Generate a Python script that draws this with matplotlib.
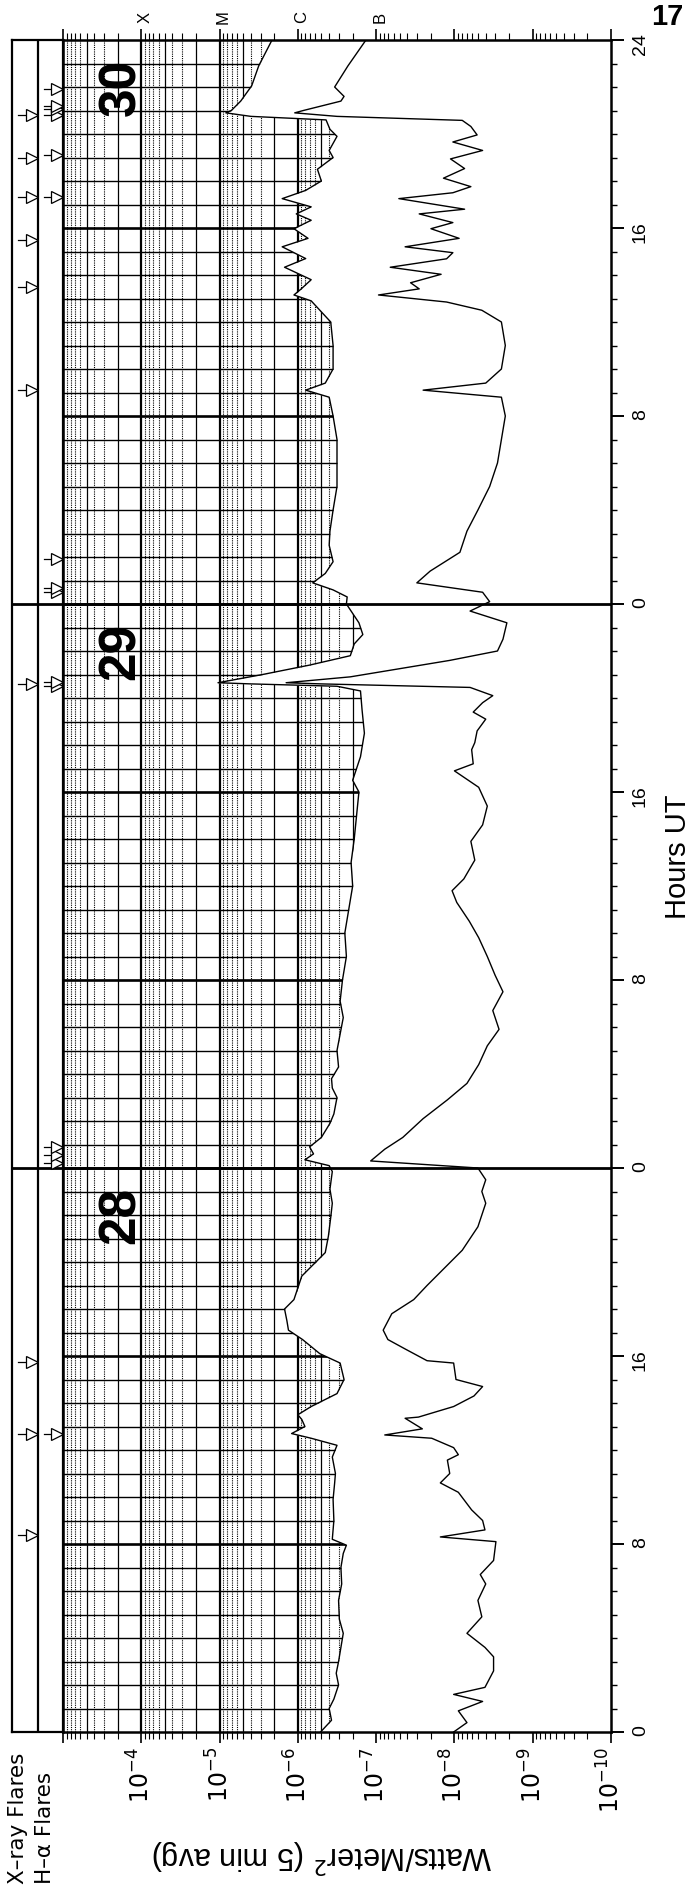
import numpy as np
import matplotlib
matplotlib.use("Agg")
import matplotlib.pyplot as plt
from matplotlib.ticker import FixedLocator, LogLocator, FuncFormatter, NullFormatter
import matplotlib.transforms as mtransforms

plt.rcParams['font.family'] = ['Liberation Sans', 'DejaVu Sans']

# GOES X-ray flux, 5 min averages; hours counted from 00 UT on the 28th
# 1-8 A channel
long_hours = [0.0, 0.5, 1.0, 1.4, 2.0, 2.5, 3.0, 3.6, 4.2, 4.8, 5.6, 6.3, 7.0, 7.6, 7.95,
              8.2, 9.0, 9.9, 10.6, 11.0, 11.7, 12.2, 12.5, 12.7, 13.0, 13.3, 13.5, 13.85,
              14.4, 15.0, 15.7, 16.1, 16.7, 17.1, 17.5, 18.0, 18.4, 19.4, 20.4, 21.1, 21.9,
              22.5, 23.1, 23.85, 24.1, 24.35, 24.6, 24.9, 25.3, 25.9, 26.3, 27.0, 27.4,
              27.8, 28.3, 29.0, 29.7, 30.4, 31.1, 32.0, 33.0, 34.0, 35.0, 36.0, 37.0, 38.0,
              39.0, 40.0, 40.5, 41.5, 42.5, 43.5, 44.3, 44.5, 44.6, 44.65, 45.0, 45.4, 45.8,
              46.3, 46.7, 47.2, 47.6, 48.0, 48.3, 48.6, 48.9, 49.3, 49.8, 50.5, 51.1, 52.0,
              53.0, 54.0, 55.0, 56.0, 56.8, 57.1, 57.4, 58.0, 59.0, 60.0, 60.9, 61.15, 61.4,
              61.8, 62.33, 62.7, 63.2, 63.56, 63.97, 64.33, 64.6, 64.9, 65.25, 65.6, 66.0,
              66.5, 67.0, 67.3, 67.9, 68.2, 68.6, 68.75, 68.9, 69.0, 69.4, 70.05, 70.9, 72.0]
long_logs = [-6.29, -6.43, -6.40, -6.46, -6.52, -6.49, -6.52, -6.55, -6.58, -6.53, -6.52,
             -6.56, -6.55, -6.58, -6.62, -6.44, -6.46, -6.45, -6.47, -6.48, -6.44, -6.50,
             -6.17, -5.92, -6.09, -6.05, -6.00, -6.17, -6.50, -6.59, -6.54, -6.28, -6.06,
             -5.88, -5.86, -5.83, -5.95, -6.05, -6.35, -6.39, -6.42, -6.44, -6.41, -6.44,
             -6.40, -6.09, -6.20, -6.15, -6.30, -6.41, -6.46, -6.50, -6.44, -6.43, -6.52,
             -6.50, -6.54, -6.58, -6.54, -6.57, -6.62, -6.60, -6.65, -6.70, -6.68, -6.72,
             -6.75, -6.78, -6.70, -6.80, -6.85, -6.82, -6.80, -6.50, -5.40, -4.98, -5.55,
             -6.15, -6.67, -6.72, -6.83, -6.78, -6.70, -6.62, -6.63, -6.45, -6.19, -6.35,
             -6.45, -6.40, -6.41, -6.45, -6.50, -6.50, -6.50, -6.45, -6.40, -6.10, -6.35,
             -6.45, -6.45, -6.42, -6.17, -5.95, -6.04, -6.17, -5.83, -6.10, -5.80, -6.13,
             -5.95, -6.17, -5.98, -6.17, -5.80, -6.10, -6.30, -6.25, -6.45, -6.40, -6.50,
             -6.41, -6.36, -5.40, -5.08, -5.15, -5.27, -5.41, -5.50, -5.67]

# 0.5-4 A channel
short_hours = [0.0, 0.4, 0.9, 1.3, 1.6, 1.9, 2.6, 3.2, 3.6, 4.2, 4.9, 5.6, 6.3, 6.7, 7.3,
               8.1, 8.3, 8.6, 9.0, 9.45, 10.2, 10.6, 11.0, 11.57, 11.8, 12.1, 12.5, 12.64,
               12.9, 13.35, 13.4, 13.85, 14.3, 14.7, 15.0, 15.7, 15.8, 16.3, 16.7, 17.1,
               17.8, 18.4, 19.0, 19.5, 20.0, 20.5, 21.0, 21.5, 22.0, 22.5, 23.0, 23.5, 24.0,
               24.3, 24.8, 25.3, 26.1, 26.9, 27.6, 28.4, 29.2, 29.9, 30.7, 31.5, 32.2, 33.0,
               33.8, 34.5, 35.3, 35.8, 36.3, 37.1, 37.9, 38.6, 39.4, 40.2, 40.9, 41.2, 41.8,
               42.1, 42.6, 43.1, 43.4, 43.8, 44.1, 44.45, 44.6, 44.65, 44.9, 45.6, 46.0,
               46.5, 47.2, 47.7, 48.1, 48.5, 48.9, 49.4, 50.2, 51.1, 52.0, 53.0, 54.0, 55.0,
               56.0, 56.8, 57.1, 57.4, 58.0, 59.0, 60.0, 60.5, 60.85, 61.15, 61.41, 61.67,
               62.03, 62.33, 62.69, 62.95, 63.2, 63.56, 63.97, 64.23, 64.6, 64.8, 65.25,
               65.5, 65.76, 66.12, 66.53, 66.94, 67.3, 67.66, 67.96, 68.32, 68.58, 68.75,
               68.9, 69.0, 69.4, 69.6, 70.0, 70.9, 72.0]
short_logs = [-7.99, -8.16, -8.05, -8.36, -7.99, -8.39, -8.50, -8.50, -8.39, -8.16, -8.35,
              -8.30, -8.40, -8.33, -8.50, -8.53, -7.82, -8.39, -8.36, -8.22, -8.05, -7.82,
              -7.94, -7.91, -8.05, -7.99, -7.71, -7.11, -7.59, -7.37, -7.54, -7.99, -8.25,
              -8.36, -8.02, -7.99, -7.65, -7.37, -7.15, -7.09, -7.20, -7.48, -7.65, -7.80,
              -7.95, -8.10, -8.20, -8.30, -8.35, -8.40, -8.35, -8.40, -8.30,
              -6.93, -7.11, -7.34, -7.60, -7.91, -8.16, -8.31, -8.42, -8.57, -8.49, -8.62,
              -8.52, -8.42, -8.31, -8.19, -8.03, -7.97, -8.12, -8.26, -8.21, -8.36, -8.42,
              -8.31, -8.00, -8.24, -8.22, -8.26, -8.29, -8.40, -8.24, -8.36, -8.49, -8.20,
              -6.30, -5.85, -6.67, -7.94, -8.55, -8.62, -8.67, -8.20, -8.45, -8.36, -7.52,
              -7.69, -8.07, -8.16, -8.30, -8.45, -8.55, -8.60, -8.65, -8.60, -7.60, -8.40,
              -8.60, -8.65, -8.60, -8.35, -7.90, -7.03, -7.55, -7.44, -7.83, -7.18, -7.90,
              -7.98, -7.37, -8.06, -7.70, -7.98, -7.55, -8.13, -7.29, -7.98, -8.21, -7.86,
              -8.13, -7.95, -8.36, -7.98, -8.29, -8.21, -8.10, -6.50, -5.96, -6.07, -6.55,
              -6.59, -6.47, -6.64, -6.87]

xray_flares = [8.38, 12.7, 15.75, 44.6, 57.1, 61.5, 63.5, 65.3, 67.0, 68.8]
halpha_flares = [12.7, 24.2, 24.55, 24.9, 44.5, 44.7, 48.5, 48.7, 49.9, 65.3, 67.1,
                 68.8, 69.05, 69.2, 69.9]

day_labels = ['28', '29', '30']
class_labels = ['X', 'M', 'C', 'B']

W, H = 694, 1886
fig = plt.figure(figsize=(W / 100, H / 100), dpi=100)

left_px, right_px, top_px, bot_px = 63, 611, 40, 1732
ax = fig.add_axes([left_px / W, 1 - bot_px / H, (right_px - left_px) / W, (bot_px - top_px) / H])
ax.set_xscale('log')
ax.set_xlim(1e-3, 1e-10)
ax.set_ylim(0, 72)

# log grid: decade lines heavy, minor lines lighter / dotted
for e in range(-10, -3):
    for m in range(1, 10):
        v = m * 10.0 ** e
        if m == 1:
            ax.axvline(v, color='k', lw=1.6, zorder=1)
        elif m in (2, 5):
            ax.axvline(v, color='k', lw=0.9, zorder=1)
        else:
            ax.axvline(v, color='k', lw=0.8, ls=(0, (1, 1)), zorder=1)
for hr in range(1, 72):
    ax.axhline(hr, color='k', lw=1.9 if hr % 8 == 0 else 1.0, zorder=1)

long_flux = np.power(10.0, long_logs)
short_flux = np.power(10.0, short_logs)

# blank out the grid on the low-flux side of the 1-8 A curve
ax.fill_betweenx(long_hours, long_flux, 1e-12, color='white', lw=0, zorder=1.5)
ax.plot(long_flux, long_hours, color='k', lw=1.0, zorder=3)
ax.plot(short_flux, short_hours, color='k', lw=1.0, zorder=3)

for d in (24, 48):
    ax.axhline(d, color='k', lw=2.0, zorder=4)

for i, lab in enumerate(day_labels):
    ax.text(10 ** -3.75, 22.0 + 24 * i, lab, rotation=90, fontsize=37, fontweight='bold',
            ha='center', va='center', zorder=5)

trans = mtransforms.blended_transform_factory(ax.transData, ax.transAxes)
for i, lab in enumerate(class_labels):
    ax.text(10.0 ** (-4.05 - i), 1.0136, lab, transform=trans, rotation=90, fontsize=12,
            ha='center', va='center')

for s in ax.spines.values():
    s.set_linewidth(1.8)
    s.set_zorder(6)

ax.xaxis.set_major_locator(FixedLocator([10.0 ** e for e in range(-10, -2)]))
ax.xaxis.set_minor_locator(LogLocator(base=10, subs=np.arange(2, 10), numticks=30))
ax.xaxis.set_major_formatter(FuncFormatter(
    lambda v, p: '' if v > 5e-4 else r'$10^{%d}$' % round(np.log10(v))))
ax.xaxis.set_minor_formatter(NullFormatter())
ax.tick_params(axis='x', which='both', direction='out', top=True, bottom=True,
               labelrotation=90, labelsize=17, pad=3)
ax.tick_params(axis='x', which='major', length=8, width=1.2)
ax.tick_params(axis='x', which='minor', length=5, width=0.8)

ax.yaxis.set_major_locator(FixedLocator(list(range(0, 73, 8))))
ax.yaxis.set_minor_locator(FixedLocator(list(range(0, 73))))
ax.yaxis.set_major_formatter(FuncFormatter(
    lambda v, p: '24' if v >= 72 else str(int(round(v)) % 24)))
ax.tick_params(axis='y', which='both', left=False, right=True, labelleft=False,
               labelright=True, direction='out')
ax.tick_params(axis='y', which='major', length=9, width=1.4, labelrotation=90,
               labelsize=14, pad=6)
ax.tick_params(axis='y', which='minor', length=4, width=1.0)

# flare event strips
fa = fig.add_axes([12 / W, 1 - bot_px / H, (left_px - 12) / W, (bot_px - top_px) / H])
fa.set_xlim(0, 1)
fa.set_ylim(0, 72)
fa.set_xticks([])
fa.set_yticks([])
for s in fa.spines.values():
    s.set_linewidth(1.6)
fa.axvline(0.51, color='k', lw=1.6)
for d in (24, 48):
    fa.axhline(d, color='k', lw=2.0)
for t in xray_flares:
    fa.plot([0.12, 0.32], [t, t], color='k', lw=0.9)
    fa.plot(0.40, t, marker='>', ms=8, mfc='white', mec='k', mew=0.9)
for t in halpha_flares:
    fa.plot([0.62, 0.82], [t, t], color='k', lw=0.9)
    fa.plot(0.89, t, marker='>', ms=8, mfc='white', mec='k', mew=0.9)

fig.text(18 / W, 1 - 1884 / H, 'X–ray Flares', rotation=90, fontsize=15.5,
         family='DejaVu Sans', ha='center', va='bottom')
fig.text(45 / W, 1 - 1884 / H, 'H–α Flares', rotation=90, fontsize=15.5,
         family='DejaVu Sans', ha='center', va='bottom')
fig.text(322 / W, 1 - 1856 / H, r'Watts/Meter$^2$ (5 min avg)', rotation=180,
         fontsize=22, ha='center', va='center')
fig.text(678 / W, 1 - 857 / H, 'Hours UT', rotation=90, fontsize=21,
         ha='center', va='center')
fig.text(667 / W, 1 - 17 / H, '17', fontsize=21, fontweight='bold',
         ha='center', va='center')

fig.savefig('out.png', dpi=100)
